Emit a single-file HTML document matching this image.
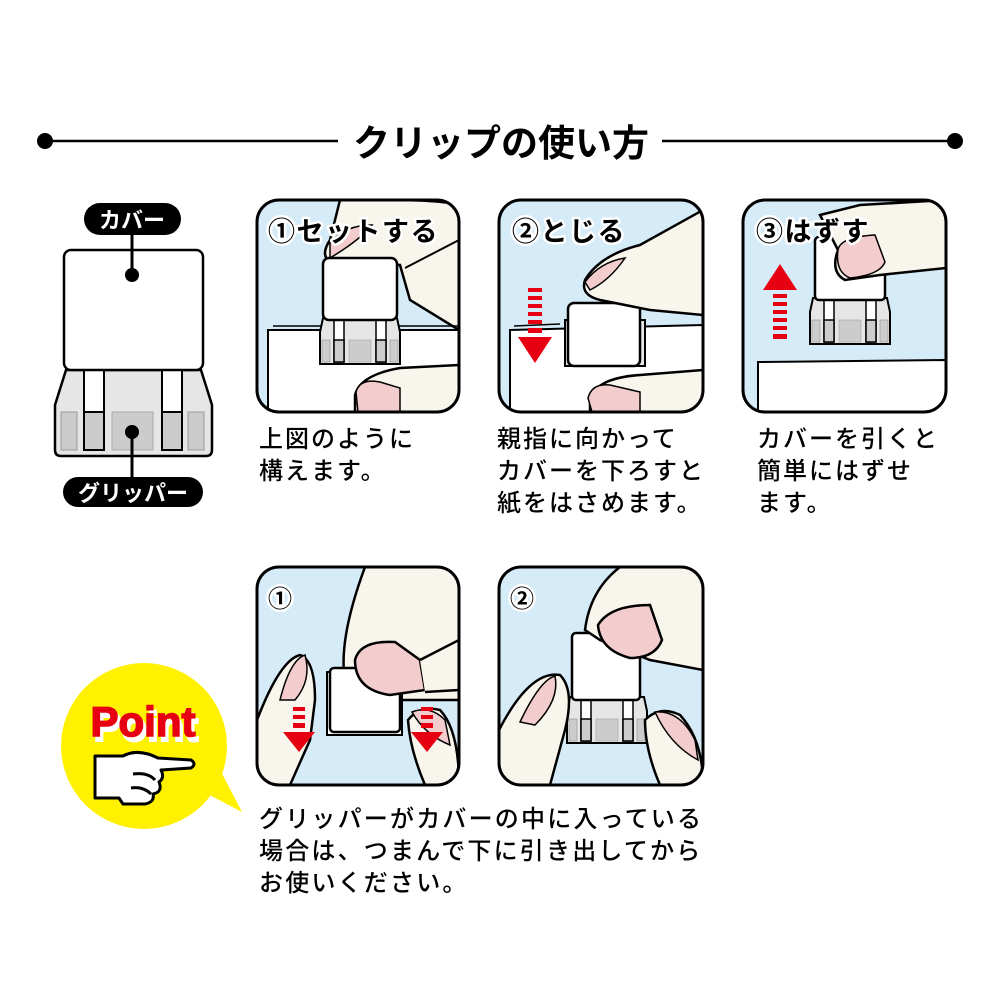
<!DOCTYPE html>
<html><head><meta charset="utf-8"><style>
html,body{margin:0;padding:0;background:#fff;}
svg{display:block}
text{font-family:"Liberation Sans","Noto Sans CJK JP",sans-serif;}
</style></head><body>
<svg width="1000" height="1000" viewBox="0 0 1000 1000" xmlns="http://www.w3.org/2000/svg">
<defs>
<clipPath id="c1"><rect x="257" y="200" width="202" height="212" rx="22"/></clipPath>
<clipPath id="c2"><rect x="499" y="200" width="204" height="212" rx="22"/></clipPath>
<clipPath id="c3"><rect x="743" y="200" width="203" height="212" rx="22"/></clipPath>
<clipPath id="c4"><rect x="257" y="567" width="202" height="218" rx="22"/></clipPath>
<clipPath id="c5"><rect x="499" y="567" width="204" height="218" rx="22"/></clipPath>
<g id="grip">
<path d="M3,0 L77,0 L80,14 L80,46 L0,46 L0,14 Z" fill="#e6e6e6" stroke="#000" stroke-width="2"/>
<rect x="2" y="22" width="8" height="22" fill="#ccc" stroke="#999" stroke-width="0.7"/>
<rect x="14" y="0" width="10" height="44" fill="#fff" stroke="#000" stroke-width="1.5"/>
<rect x="14" y="22" width="10" height="22" fill="#ccc" stroke="#000" stroke-width="1.5"/>
<rect x="29" y="22" width="22" height="22" fill="#ccc" stroke="#aaa" stroke-width="0.7"/>
<rect x="56" y="0" width="10" height="44" fill="#fff" stroke="#000" stroke-width="1.5"/>
<rect x="56" y="22" width="10" height="22" fill="#ccc" stroke="#000" stroke-width="1.5"/>
<rect x="70" y="22" width="8" height="22" fill="#ccc" stroke="#999" stroke-width="0.7"/>
</g>
</defs>

<!-- title -->
<line x1="45" y1="141" x2="338" y2="141" stroke="#000" stroke-width="2.5"/>
<line x1="662" y1="141" x2="955" y2="141" stroke="#000" stroke-width="2.5"/>
<circle cx="45" cy="141" r="8"/><circle cx="955" cy="141" r="8"/>
<text x="501" y="156" font-size="37" font-weight="bold" text-anchor="middle">クリップの使い方</text>

<!-- left diagram -->
<path d="M66,370 L201,370 L212,405 L212,450 Q212,456 206,456 L61,456 Q55,456 55,450 L55,405 Z" fill="#e6e6e6" stroke="#000" stroke-width="2.5"/>
<rect x="61" y="412" width="16" height="38" fill="#ccc" stroke="#999"/>
<rect x="84" y="370" width="20" height="80" fill="#fff" stroke="#000" stroke-width="2"/>
<rect x="84" y="412" width="20" height="38" fill="#ccc" stroke="#000" stroke-width="2"/>
<rect x="112" y="412" width="41" height="38" fill="#ccc" stroke="#aaa"/>
<rect x="162" y="370" width="20" height="80" fill="#fff" stroke="#000" stroke-width="2"/>
<rect x="162" y="412" width="20" height="38" fill="#ccc" stroke="#000" stroke-width="2"/>
<rect x="188" y="412" width="16" height="38" fill="#ccc" stroke="#999"/>
<rect x="64" y="250" width="139" height="120" rx="7" fill="#fff" stroke="#000" stroke-width="2.5"/>
<line x1="132" y1="225" x2="132" y2="275" stroke="#000" stroke-width="3"/>
<circle cx="132" cy="275" r="7"/>
<line x1="132" y1="432" x2="132" y2="485" stroke="#000" stroke-width="3"/>
<circle cx="132" cy="432" r="7"/>
<rect x="84" y="203" width="97" height="32" rx="16"/>
<text x="132" y="228" font-size="22" font-weight="bold" fill="#fff" text-anchor="middle">カバー</text>
<rect x="63" y="477" width="140" height="30" rx="15"/>
<text x="133" y="501" font-size="22" font-weight="bold" fill="#fff" text-anchor="middle">グリッパー</text>

<!-- panel 1 -->
<g clip-path="url(#c1)">
<rect x="257" y="200" width="202" height="212" fill="#d6ebf8"/>
<path d="M340,200 L459,200 L459,330 L410,300 L400,265 L330,262 Q320,255 330,240 Z" fill="#f8f5ec" stroke="#000" stroke-width="2.5"/>
<path d="M375,200 Q440,200 459,205 L459,240 L405,268" fill="none" stroke="#000" stroke-width="2"/>
<path d="M330,243 Q345,225 372,225 Q360,240 330,258 Z" fill="#f3cdcd" stroke="#000" stroke-width="1.5"/>
<path d="M268,330 L459,330 L459,412 L268,412 Z" fill="#fff" stroke="#000" stroke-width="2"/>
<path d="M273,326 L459,326" stroke="#000" stroke-width="1.5"/>
<use href="#grip" x="320" y="318"/>
<rect x="323" y="258" width="74" height="62" rx="6" fill="#fff" stroke="#000" stroke-width="2.5"/>
<path d="M355,395 Q360,375 400,368 L459,365 L459,412 L355,412 Z" fill="#f8f5ec" stroke="#000" stroke-width="2.5"/>
<path d="M356,392 Q360,378 380,382 L400,388 L400,412 L358,412 Z" fill="#f3cdcd" stroke="#000" stroke-width="1.5"/>
</g>
<rect x="257" y="200" width="202" height="212" rx="22" fill="none" stroke="#000" stroke-width="3"/>
<text x="268" y="241" font-size="27" font-weight="bold" letter-spacing="1.5" stroke="#fff" stroke-width="5" stroke-linejoin="round" paint-order="stroke">①セットする</text>

<!-- panel 2 -->
<g clip-path="url(#c2)">
<rect x="499" y="200" width="204" height="212" fill="#d6ebf8"/>
<path d="M510,330 L703,325 L703,412 L510,412 Z" fill="#fff" stroke="#000" stroke-width="2"/>
<path d="M514,326 L560,324" stroke="#000" stroke-width="1.5"/>
<path d="M565,320 L645,320 L645,366 L565,366 Z" fill="#e6e6e6" stroke="#000" stroke-width="2"/>
<rect x="568" y="303" width="72" height="63" rx="6" fill="#fff" stroke="#000" stroke-width="2.5"/>
<path d="M585,280 Q600,255 640,245 L703,210 L703,315 L650,310 L600,300 Q580,295 585,280 Z" fill="#f8f5ec" stroke="#000" stroke-width="2.5"/>
<path d="M585,282 Q600,262 625,258 Q610,280 590,290 Z" fill="#f3cdcd" stroke="#000" stroke-width="1.5"/>
<path d="M590,400 Q595,378 640,375 L703,370 L703,412 L590,412 Z" fill="#f8f5ec" stroke="#000" stroke-width="2.5"/>
<path d="M588,398 Q592,383 610,385 L640,392 L640,412 L592,412 Z" fill="#f3cdcd" stroke="#000" stroke-width="1.5"/>
<g fill="#e60012">
<rect x="528" y="288" width="14" height="4"/><rect x="528" y="296" width="14" height="4"/><rect x="528" y="304" width="14" height="4"/><rect x="528" y="312" width="14" height="4"/><rect x="528" y="320" width="14" height="4"/><rect x="528" y="328" width="14" height="5"/>
<path d="M518,337 L552,337 L535,363 Z"/></g>
</g>
<rect x="499" y="200" width="204" height="212" rx="22" fill="none" stroke="#000" stroke-width="3"/>
<text x="512" y="241" font-size="27" font-weight="bold" letter-spacing="1.5" stroke="#fff" stroke-width="5" stroke-linejoin="round" paint-order="stroke">②とじる</text>

<!-- panel 3 -->
<g clip-path="url(#c3)">
<rect x="743" y="200" width="203" height="212" fill="#d6ebf8"/>
<path d="M758,362 L946,360 L946,412 L758,412 Z" fill="#fff" stroke="#000" stroke-width="2"/>
<use href="#grip" x="810" y="298"/>
<rect x="815" y="237" width="70" height="63" rx="4" fill="#fff" stroke="#000" stroke-width="2.5"/>
<path d="M820,215 L860,205 L946,200 L946,268 L880,275 L845,280 Q830,272 838,250 Z" fill="#f8f5ec" stroke="#000" stroke-width="2.5"/>
<path d="M838,250 Q840,237 875,235 L885,262 Q880,275 850,278 Q835,272 838,250 Z" fill="#f3cdcd" stroke="#000" stroke-width="1.5"/>
<g fill="#e60012">
<path d="M763,290 L797,290 L780,264 Z"/>
<rect x="773" y="294" width="14" height="4"/><rect x="773" y="302" width="14" height="4"/><rect x="773" y="310" width="14" height="4"/><rect x="773" y="318" width="14" height="4"/><rect x="773" y="326" width="14" height="4"/><rect x="773" y="334" width="14" height="5"/></g>
</g>
<rect x="743" y="200" width="203" height="212" rx="22" fill="none" stroke="#000" stroke-width="3"/>
<text x="756" y="241" font-size="27" font-weight="bold" letter-spacing="1.5" stroke="#fff" stroke-width="5" stroke-linejoin="round" paint-order="stroke">③はずす</text>

<!-- bottom panel 1 -->
<g clip-path="url(#c4)">
<rect x="257" y="567" width="202" height="218" fill="#d6ebf8"/>
<path d="M365,567 L459,567 L459,700 L400,700 L345,680 Q338,640 365,567 Z" fill="#f8f5ec" stroke="#000" stroke-width="2.5"/>
<path d="M327,672 L402,672 L402,735 L327,735 Z" fill="#fff" stroke="#000" stroke-width="2"/>
<rect x="330" y="668" width="70" height="64" rx="4" fill="#fff" stroke="#000" stroke-width="2.5"/>
<path d="M355,660 Q360,640 395,642 L420,660 L425,690 L390,695 Q355,690 355,660 Z" fill="#f3cdcd" stroke="#000" stroke-width="2.5"/>
<path d="M420,660 L459,640 L459,690 L425,692" fill="#f8f5ec" stroke="#000" stroke-width="2.5"/>
<path d="M257,720 Q280,660 300,655 Q315,660 315,700 L310,740 L290,785 L257,785 Z" fill="#f8f5ec" stroke="#000" stroke-width="2.5"/>
<path d="M280,700 Q290,660 305,655 Q312,680 295,700 Z" fill="#f3cdcd" stroke="#000" stroke-width="1.5"/>
<path d="M408,720 Q420,705 440,710 Q459,730 459,785 L425,785 Q410,750 408,720 Z" fill="#f8f5ec" stroke="#000" stroke-width="2.5"/>
<path d="M412,712 Q430,705 445,720 L450,745 Q425,735 412,712 Z" fill="#f3cdcd" stroke="#000" stroke-width="1.5"/>
<g fill="#e60012">
<rect x="293" y="707" width="12" height="4"/><rect x="293" y="715" width="12" height="4"/><rect x="293" y="723" width="12" height="5"/>
<path d="M283,732 L315,732 L299,752 Z"/>
<rect x="421" y="707" width="12" height="4"/><rect x="421" y="715" width="12" height="4"/><rect x="421" y="723" width="12" height="5"/>
<path d="M411,732 L443,732 L427,752 Z"/></g>
</g>
<rect x="257" y="567" width="202" height="218" rx="22" fill="none" stroke="#000" stroke-width="3"/>
<text x="268" y="607" font-size="24" font-weight="bold" stroke="#fff" stroke-width="5" stroke-linejoin="round" paint-order="stroke">①</text>

<!-- bottom panel 2 -->
<g clip-path="url(#c5)">
<rect x="499" y="567" width="204" height="218" fill="#d6ebf8"/>
<use href="#grip" x="567" y="697"/>
<rect x="572" y="633" width="68" height="67" rx="4" fill="#fff" stroke="#000" stroke-width="2.5"/>
<path d="M585,630 Q590,590 620,567 L703,567 L703,670 L650,660 L600,640 Z" fill="#f8f5ec" stroke="#000" stroke-width="2.5"/>
<path d="M598,625 Q610,605 650,605 L662,640 Q655,658 630,658 Q600,650 598,625 Z" fill="#f3cdcd" stroke="#000" stroke-width="2.5"/>
<path d="M499,730 Q530,670 560,675 Q575,690 565,730 L550,785 L499,785 Z" fill="#f8f5ec" stroke="#000" stroke-width="2.5"/>
<path d="M520,722 Q540,680 555,676 Q560,700 535,725 Z" fill="#f3cdcd" stroke="#000" stroke-width="1.5"/>
<path d="M645,720 Q660,705 680,715 Q703,740 703,785 L660,785 Q645,750 645,720 Z" fill="#f8f5ec" stroke="#000" stroke-width="2.5"/>
<path d="M655,712 Q680,710 695,740 L698,760 Q670,745 655,712 Z" fill="#f3cdcd" stroke="#000" stroke-width="1.5"/>
</g>
<rect x="499" y="567" width="204" height="218" rx="22" fill="none" stroke="#000" stroke-width="3"/>
<text x="510" y="607" font-size="24" font-weight="bold" stroke="#fff" stroke-width="5" stroke-linejoin="round" paint-order="stroke">②</text>

<!-- captions -->
<g font-size="24" font-weight="500" letter-spacing="2">
<text x="259" y="447">上図のように</text>
<text x="259" y="479">構えます。</text>
<text x="497" y="447">親指に向かって</text>
<text x="497" y="479">カバーを下ろすと</text>
<text x="497" y="511">紙をはさめます。</text>
<text x="757" y="447">カバーを引くと</text>
<text x="757" y="479">簡単にはずせ</text>
<text x="757" y="511">ます。</text>
<text x="259" y="827" letter-spacing="2.2">グリッパーがカバーの中に入っている</text>
<text x="259" y="859" letter-spacing="2.2">場合は、つまんで下に引き出してから</text>
<text x="259" y="891" letter-spacing="2.2">お使いください。</text>
</g>

<!-- Point bubble -->
<path d="M200,790 L242,812 L215,760 Z" fill="#fff100"/>
<circle cx="144" cy="746" r="83" fill="#fff100"/>
<text x="146" y="741" font-size="42" font-weight="bold" fill="#fff" stroke="#fff" stroke-width="2" text-anchor="middle">Point</text>
<text x="143" y="736" font-size="42" font-weight="bold" fill="#e60012" stroke="#e60012" stroke-width="1.5" text-anchor="middle">Point</text>
<g transform="translate(93,752)" stroke="#000" stroke-width="3" fill="#fff" stroke-linejoin="round">
<path d="M2,4 L30,4 Q45,-4 65,6 L98,8 Q104,12 98,16 L68,18 Q72,26 66,30 Q70,40 60,42 Q62,50 52,52 L30,52 L26,46 L2,46 Z"/>
<path d="M40,22 Q55,20 62,28 M38,36 Q50,34 58,42" fill="none"/>
</g>
</svg>
</body></html>
